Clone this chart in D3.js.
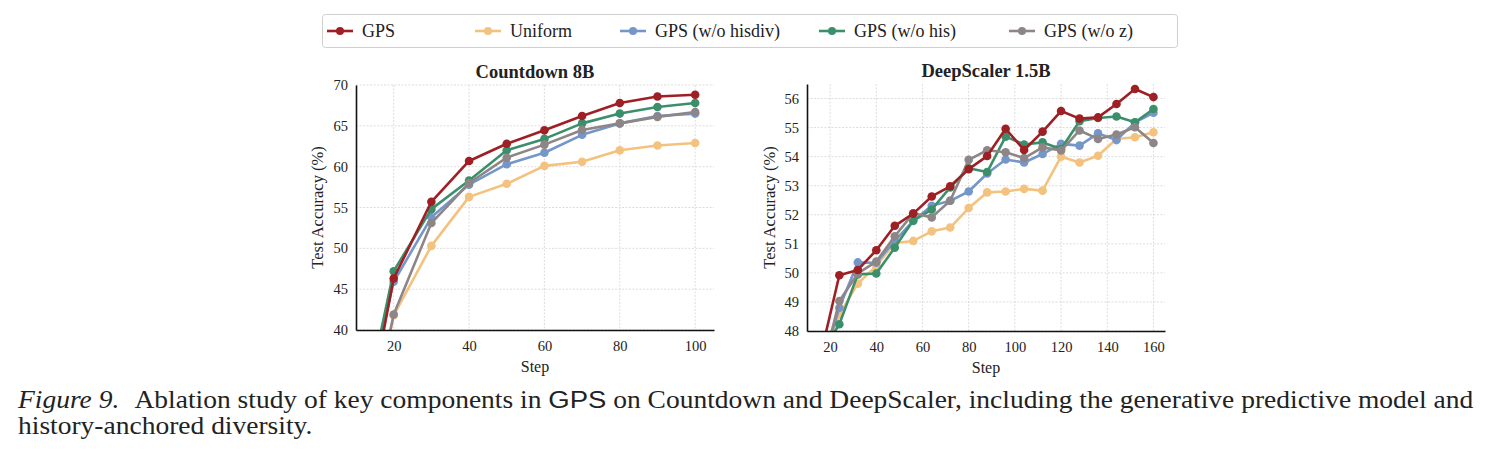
<!DOCTYPE html>
<html>
<head>
<meta charset="utf-8">
<script src="https://cdn.jsdelivr.net/npm/d3@7"></script>
<style>
  body { margin: 0; background: #fff; }
  svg text { font-family: "Liberation Serif", "Times New Roman", serif; fill: #222; }
</style>
</head>
<body>
<svg id="chart" width="1491" height="460"></svg>
<script>
// series names + colours
const seriesNames = ['GPS', 'Uniform', 'GPS (w/o hisdiv)', 'GPS (w/o his)', 'GPS (w/o z)'];
const seriesColors = ['#9e1f24', '#f4c27f', '#7596c9', '#3c8f6b', '#8e8686'];
// order the lines get drawn (GPS last so it sits on top)
const drawOrder = [1, 2, 3, 4, 0];

// Countdown 8B
const cdSteps = [10, 20, 30, 40, 50, 60, 70, 80, 90, 100];
const cdGPS = [22.2, 46.3, 55.7, 60.7, 62.8, 64.45, 66.2, 67.8, 68.6, 68.8];
const cdUniform = [20.0, 41.8, 50.3, 56.3, 57.9, 60.1, 60.6, 62.0, 62.6, 62.9];
const cdNoHisdiv = [26.0, 45.9, 53.8, 57.8, 60.3, 61.7, 63.9, 65.3, 66.2, 66.5];
const cdNoHis = [25.4, 47.2, 54.8, 58.3, 62.0, 63.4, 65.3, 66.5, 67.3, 67.8];
const cdNoZ = [20.0, 41.9, 53.1, 58.0, 61.1, 62.7, 64.5, 65.3, 66.1, 66.7];
const cdXTicks = [20, 40, 60, 80, 100];
const cdYTicks = [40, 45, 50, 55, 60, 65, 70];

// DeepScaler 1.5B
const dsSteps = [16, 24, 32, 40, 48, 56, 64, 72, 80, 88, 96, 104, 112, 120, 128, 136, 144, 152, 160];
const dsGPS = [47.2, 49.92, 50.1, 50.78, 51.62, 52.04, 52.63, 52.98, 53.57, 54.02, 54.96, 54.23, 54.86, 55.57, 55.31, 55.35, 55.81, 56.33, 56.05];
const dsUniform = [46.7, 48.57, 49.63, 50.24, 51.03, 51.1, 51.43, 51.56, 52.23, 52.77, 52.8, 52.89, 52.83, 54.0, 53.8, 54.03, 54.61, 54.67, 54.84];
const dsNoHisdiv = [46.7, 48.8, 50.36, 50.35, 51.1, 51.79, 52.31, 52.48, 52.8, 53.42, 53.9, 53.8, 54.09, 54.44, 54.38, 54.8, 54.57, 55.18, 55.51];
const dsNoHis = [47.2, 48.23, 49.95, 49.98, 50.87, 51.8, 52.18, 52.94, 53.6, 53.47, 54.69, 54.42, 54.49, 54.26, 55.22, 55.33, 55.38, 55.18, 55.64];
const dsNoZ = [46.5, 49.03, 49.98, 50.39, 51.26, 52.05, 51.91, 52.48, 53.89, 54.22, 54.15, 53.95, 54.32, 54.21, 54.9, 54.61, 54.76, 55.01, 54.47];
const dsXTicks = [20, 40, 60, 80, 100, 120, 140, 160];
const dsYTicks = [48, 49, 50, 51, 52, 53, 54, 55, 56];

const svg = d3.select('#chart');

function drawPanel(cfg) {
  const g = svg.append('g').attr('transform', 'translate(' + cfg.left + ',' + cfg.top + ')');
  const x = d3.scaleLinear().domain(cfg.xDomain).range([0, cfg.width]);
  const y = d3.scaleLinear().domain(cfg.yDomain).range([cfg.height, 0]);

  // grid
  g.append('g')
    .selectAll('line.gx')
    .data(cfg.xTicks)
    .enter()
    .append('line')
    .attr('x1', (d) => x(d)).attr('x2', (d) => x(d))
    .attr('y1', 0).attr('y2', cfg.height)
    .style('stroke', '#d4d4d4').style('stroke-width', 0.8)
    .style('stroke-dasharray', '2,1.5');
  g.append('g')
    .selectAll('line.gy')
    .data(cfg.yTicks)
    .enter()
    .append('line')
    .attr('x1', 0).attr('x2', cfg.width)
    .attr('y1', (d) => y(d)).attr('y2', (d) => y(d))
    .style('stroke', '#d4d4d4').style('stroke-width', 0.8)
    .style('stroke-dasharray', '2,1.5');

  const clipId = 'clip-' + cfg.id;
  g.append('clipPath').attr('id', clipId)
    .append('rect').attr('x', -6).attr('y', -6)
    .attr('width', cfg.width + 12).attr('height', cfg.height + 6);

  const plot = g.append('g').attr('clip-path', 'url(#' + clipId + ')');
  const line = d3.line().x((d) => x(d[0])).y((d) => y(d[1]));

  drawOrder.forEach((si) => {
    const pts = cfg.steps.map((s, i) => [s, cfg.series[si][i]]);
    plot.append('path')
      .datum(pts)
      .attr('d', line)
      .style('fill', 'none')
      .style('stroke', seriesColors[si])
      .style('stroke-width', 2.6)
      .style('stroke-linejoin', 'round');
    plot.selectAll('circle.s' + si)
      .data(pts.filter((p) => p[1] >= cfg.yDomain[0]))
      .enter()
      .append('circle')
      .attr('cx', (d) => x(d[0]))
      .attr('cy', (d) => y(d[1]))
      .attr('r', 4.3)
      .style('fill', seriesColors[si]);
  });

  // axes, seaborn-ish: no tick marks, only left + bottom spines
  const xAxis = g.append('g')
    .attr('transform', 'translate(0,' + cfg.height + ')')
    .call(d3.axisBottom(x).tickValues(cfg.xTicks).tickSize(0).tickPadding(11));
  const yAxis = g.append('g')
    .call(d3.axisLeft(y).tickValues(cfg.yTicks).tickSize(0).tickPadding(8));
  [xAxis, yAxis].forEach((a) => {
    a.select('.domain').style('stroke', '#111').style('stroke-width', 1.6);
    a.selectAll('text')
      .style('font-family', '"Liberation Serif", serif')
      .style('font-size', '14.5px')
      .style('fill', '#222');
  });

  g.append('text')
    .attr('x', cfg.width / 2).attr('y', -7)
    .attr('text-anchor', 'middle')
    .style('font-size', '18.5px').style('font-weight', 'bold')
    .text(cfg.title);
  g.append('text')
    .attr('x', cfg.width / 2).attr('y', cfg.height + 42)
    .attr('text-anchor', 'middle')
    .style('font-size', '16px')
    .text('Step');
  g.append('text')
    .attr('transform', 'translate(' + cfg.yLabelX + ',' + cfg.height / 2 + ') rotate(-90)')
    .attr('text-anchor', 'middle')
    .style('font-size', '16.5px')
    .text('Test Accuracy (%)');
}

drawPanel({
  id: 'cd', left: 356, top: 85, width: 358, height: 245,
  xDomain: [10, 105], yDomain: [40, 70],
  xTicks: cdXTicks, yTicks: cdYTicks, steps: cdSteps,
  series: [cdGPS, cdUniform, cdNoHisdiv, cdNoHis, cdNoZ],
  title: 'Countdown 8B', yLabelX: -33,
});
drawPanel({
  id: 'ds', left: 807, top: 84, width: 358, height: 247,
  xDomain: [10, 165], yDomain: [48, 56.5],
  xTicks: dsXTicks, yTicks: dsYTicks, steps: dsSteps,
  series: [dsGPS, dsUniform, dsNoHisdiv, dsNoHis, dsNoZ],
  title: 'DeepScaler 1.5B', yLabelX: -32,
});

// legend
const legend = svg.append('g');
legend.append('rect')
  .attr('x', 322.5).attr('y', 14.5).attr('width', 855).attr('height', 33)
  .attr('rx', 3)
  .style('fill', '#fff').style('stroke', '#cfcfcf').style('stroke-width', 1);
const legendLineX = [327, 475, 620, 819, 1009];
seriesNames.forEach((name, i) => {
  const lx = legendLineX[i];
  legend.append('line')
    .attr('x1', lx).attr('x2', lx + 26).attr('y1', 31).attr('y2', 31)
    .style('stroke', seriesColors[i]).style('stroke-width', 2.6);
  legend.append('circle')
    .attr('cx', lx + 13).attr('cy', 31).attr('r', 4)
    .style('fill', seriesColors[i]);
  legend.append('text')
    .attr('x', lx + 35).attr('y', 37)
    .style('font-size', '18px')
    .text(name);
});

// caption: Times-like text, squeezed a little sideways as in the paper
const capSize = 24.5;
const cap = svg.append('g').style('font-size', capSize + 'px');
const figLabel = cap.append('text').attr('x', 0).attr('y', 0)
  .style('font-style', 'italic').text('Figure 9.');
const line1 = cap.append('text').attr('y', 0);
line1.append('tspan').text('Ablation study of key components in ');
line1.append('tspan').style('font-family', '"Liberation Sans", Arial, sans-serif').text('GPS');
line1.append('tspan').text(' on Countdown and DeepScaler, including the generative predictive model and');
const labelW = figLabel.node().getComputedTextLength();
line1.attr('x', labelW + capSize * 0.55);
const fullW = labelW + capSize * 0.55 + line1.node().getComputedTextLength();
const sx = 1456 / fullW;
cap.append('text').attr('x', 0).attr('y', 26.5).text('history-anchored diversity.');
cap.attr('transform', 'translate(18,408) scale(' + sx + ',1)');
</script>
</body>
</html>
